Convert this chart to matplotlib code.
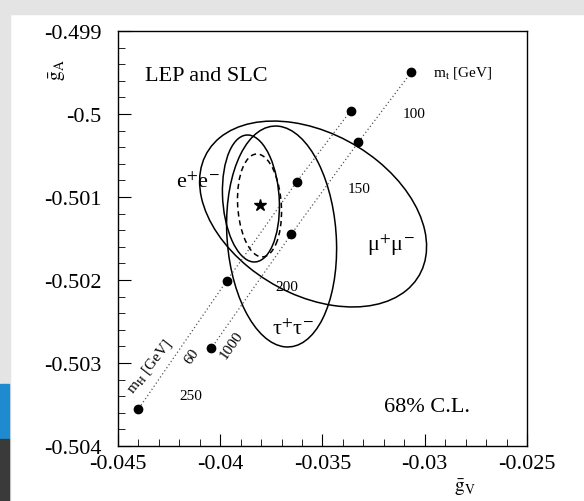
import numpy as np
import matplotlib
matplotlib.use("Agg")
import matplotlib.pyplot as plt
from matplotlib.patches import Ellipse, Rectangle
import matplotlib.transforms as transforms

plt.rcParams['font.family'] = ['Liberation Serif', 'DejaVu Serif']
plt.rcParams['mathtext.fontset'] = 'stix'

# ---------------- data ----------------
mt_values = [100, 150, 200, 250]                 # m_t [GeV] along each SM line
gv_mh60 = [-0.03363, -0.03627, -0.03969, -0.04400]
ga_mh60 = [-0.499964, -0.500819, -0.502012, -0.503554]
gv_mh1000 = [-0.03065, -0.03324, -0.03652, -0.04043]
ga_mh1000 = [-0.499494, -0.500337, -0.501446, -0.502819]

# 68% C.L. contours: centre, half-extent, correlation
ell_names = ['ee', 'mumu', 'tautau', 'combined']
ell_cx = [-0.03850, -0.03546, -0.03700, -0.03808]
ell_cy = [-0.501018, -0.501205, -0.501476, -0.501102]
ell_sx = [0.001394, 0.00555, 0.00269, 0.001076]
ell_sy = [0.000765, 0.001120, 0.001331, 0.000620]
ell_rho = [-0.12, -0.35, -0.11, -0.12]
ell_style = ['solid', 'solid', 'solid', 'dashed']

star_gv = [-0.03808]
star_ga = [-0.501096]

x_ticks = [-0.045, -0.04, -0.035, -0.03, -0.025]
x_ticklabels = ['-0.045', '-0.04', '-0.035', '-0.03', '-0.025']
y_ticks = [-0.504, -0.503, -0.502, -0.501, -0.5, -0.499]
y_ticklabels = ['-0.504', '-0.503', '-0.502', '-0.501', '-0.5', '-0.499']

# ---------------- figure ----------------
W, H = 584, 502
fig = plt.figure(figsize=(W / 100, H / 100), dpi=100)
fig.patch.set_facecolor('white')
# screenshot frame artefacts
fig.patches.append(Rectangle((0, 1 - 15 / H), 1, 15 / H, transform=fig.transFigure,
                             color='#e4e4e4', zorder=0))
fig.patches.append(Rectangle((0, 0), 10 / W, 1, transform=fig.transFigure,
                             color='#e4e4e4', zorder=0))
fig.patches.append(Rectangle((0, 62 / H), 9 / W, 55 / H, transform=fig.transFigure,
                             color='#1e8bd0', zorder=0))
fig.patches.append(Rectangle((0, 0), 9 / W, 62 / H, transform=fig.transFigure,
                             color='#3a3a3a', zorder=0))

ax = fig.add_axes([118 / W, 55 / H, 409 / W, 415 / H])
ax.set_xlim(-0.045, -0.025)
ax.set_ylim(-0.504, -0.499)

# SM prediction lines
ax.plot(gv_mh60, ga_mh60, linestyle=(0, (1, 2)), color='#555555', lw=0.9)
ax.plot(gv_mh1000, ga_mh1000, linestyle=(0, (1, 2)), color='#555555', lw=0.9)
ax.plot(gv_mh60, ga_mh60, 'o', color='black', ms=6)
ax.plot(gv_mh1000, ga_mh1000, 'o', color='black', ms=6)

# contours
for cx, cy, sx, sy, rho, ls in zip(ell_cx, ell_cy, ell_sx, ell_sy, ell_rho, ell_style):
    e = Ellipse((0, 0), width=2 * np.sqrt(1 + rho), height=2 * np.sqrt(1 - rho),
                facecolor='none', edgecolor='black',
                lw=1.1, linestyle=(0, (3.5, 2.5)) if ls == 'dashed' else '-')
    t = transforms.Affine2D().rotate_deg(45).scale(sx, sy).translate(cx, cy)
    e.set_transform(t + ax.transData)
    ax.add_patch(e)

ax.plot(star_gv, star_ga, marker='*', color='black', ms=9, ls='none')

# ticks
ax.set_xticks(x_ticks)
ax.set_xticklabels(x_ticklabels)
ax.set_yticks(y_ticks)
ax.set_yticklabels(y_ticklabels)
ax.set_xticks(np.arange(-0.045, -0.0249, 0.001), minor=True)
ax.set_yticks(np.arange(-0.504, -0.4989, 0.0002), minor=True)
ax.tick_params(which='both', direction='in', top=False, right=False, labelsize=16)
ax.tick_params(axis='y', which='major', length=9, pad=12)
ax.tick_params(axis='x', which='major', length=9, pad=6)
ax.tick_params(which='minor', length=5)
for s in ax.spines.values():
    s.set_linewidth(1.0)

# annotations
ax.text(0.066, 0.892, 'LEP and SLC', transform=ax.transAxes, fontsize=16,
        ha='left', va='center')
ax.text(0.650, 0.094, '68% C.L.', transform=ax.transAxes, fontsize=16,
        ha='left', va='center')
ax.text(-0.02962, -0.499494, r'm$_{\rm t}$ [GeV]', fontsize=11, ha='left', va='center')
mt_label_pos = [(-0.03050, -0.50000), (-0.03319, -0.500892),
                (-0.03676, -0.502084), (-0.04145, -0.503397)]
for (x, y), m in zip(mt_label_pos, mt_values):
    ax.text(x, y, str(m), fontsize=11, ha='center', va='center')
ax.text(-0.04141, -0.502916, '60', fontsize=11, rotation=55, ha='center', va='center')
ax.text(-0.03945, -0.502783, '1000', fontsize=11, rotation=55, ha='center', va='center')
ax.text(-0.04346, -0.503036, r'm$_{\rm H}$ [GeV]', fontsize=11, rotation=52,
        ha='center', va='center')
ax.text(-0.04111, -0.500819, r'e$^{+}$e$^{-}$', fontsize=16, ha='center', va='center')
ax.text(-0.03163, -0.501566, r'μ$^{+}$μ$^{-}$', fontsize=16, ha='center', va='center')
ax.text(-0.03647, -0.502590, r'τ$^{+}$τ$^{-}$', fontsize=16, ha='center', va='center')

fig.text(58 / W, 1 - 70 / H, r'$\bar{\mathrm{g}}_{\mathrm{A}}$', fontsize=14, rotation=90,
         ha='center', va='center')
fig.text(465 / W, 1 - 488 / H, r'$\bar{\mathrm{g}}_{\mathrm{V}}$', fontsize=14,
         ha='center', va='center')

fig.savefig('out.png', dpi=100)
